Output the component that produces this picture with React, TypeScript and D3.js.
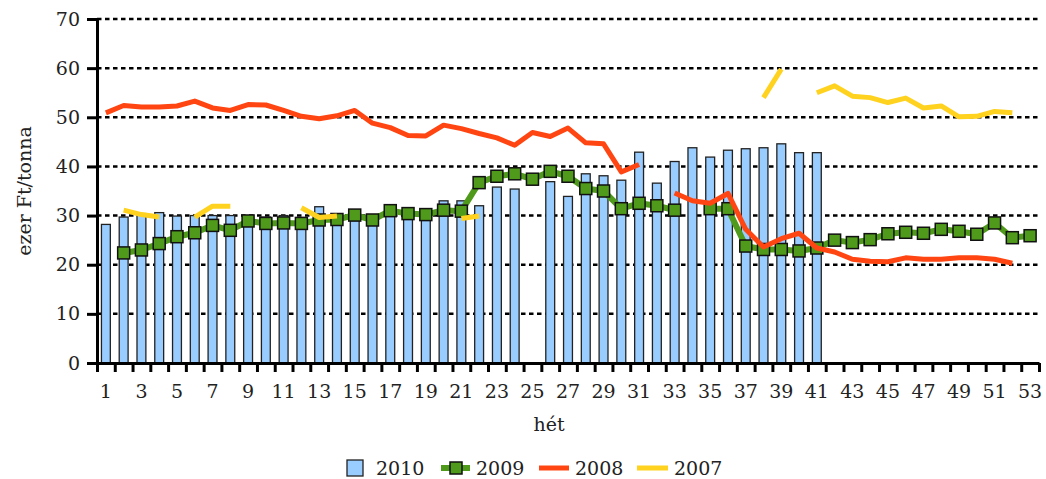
import * as d3 from "d3";
import { useEffect, useRef } from "react";

// weeks on the x axis
const weeks = d3.range(1, 54);
const tickWeeks = weeks.filter((w) => w % 2 === 1);
const yTicks = [0, 10, 20, 30, 40, 50, 60, 70];

// 2010 bars, weeks 1..41 (week 25 missing)
const s2010: (number | null)[] = [
  28.2, 29.7, 30.4, 30.6, 29.9, 30, 30, 30, 29.5, 29.7, 30, 29.6, 31.8, 29,
  29.2, 29.3, 30.4, 30, 29.5, 33, 33, 32, 35.8, 35.4, null, 36.9, 33.9, 38.5,
  38.1, 37.2, 42.9, 36.6, 41, 43.8, 41.9, 43.3, 43.6, 43.8, 44.6, 42.8, 42.8,
];

// 2009 line with markers, weeks 1..53
const s2009: (number | null)[] = [
  null, 22.4, 23, 24.3, 25.7, 26.5, 28, 27, 28.9, 28.4, 28.5, 28.4, 29.1, 29.2,
  30.1, 29.1, 31, 30.4, 30.2, 31.1, 30.9, 36.7, 38, 38.5, 37.4, 39, 38, 35.5,
  35, 31.4, 32.5, 32, 31.1, null, 31.4, 31.4, 23.8, 23.1, 23.1, 22.8, 23.4, 25,
  24.5, 25.1, 26.3, 26.6, 26.4, 27.2, 26.8, 26.2, 28.5, 25.5, 25.9,
];

// 2008 line, weeks 1..53
const s2008: (number | null)[] = [
  50.9, 52.4, 52.1, 52.1, 52.3, 53.3, 51.9, 51.4, 52.6, 52.5, 51.4, 50.2, 49.7,
  50.3, 51.4, 48.8, 47.9, 46.3, 46.2, 48.4, 47.7, 46.7, 45.8, 44.3, 46.9, 46.1,
  47.8, 44.8, 44.6, 38.9, 40.4, null, 34.6, 33, 32.5, 34.5, 27.2, 23.6, 25.3,
  26.4, 23.4, 22.6, 21.1, 20.7, 20.6, 21.4, 21.1, 21.1, 21.4, 21.4, 21.1, 20.3,
  null,
];

// 2007 line, weeks 1..53
const s2007: (number | null)[] = [
  null, 31.1, 30.2, 29.7, null, 29.7, 31.9, 31.9, null, null, null, 31.6, 29.6,
  29.9, null, null, null, null, null, null, 29.4, 29.9, null, null, null, null,
  null, null, null, null, null, null, null, null, null, null, null, 54, 59.8,
  null, 55, 56.4, 54.3, 54, 53, 53.9, 51.9, 52.3, 50.1, 50.2, 51.2, 50.9, null,
];

const C2010 = "#99CCFF";
const C2009 = "#4F9A1B";
const C2008 = "#FF4612";
const C2007 = "#FFD21F";
const FONT = "DejaVu Serif, serif";
const FS = "19px";

export default function App() {
  const ref = useRef<SVGSVGElement>(null);

  useEffect(() => {
    const svg = d3.select(ref.current);
    svg.selectAll("*").remove();

    const left = 97;
    const right = 1039;
    const top = 19;
    const bottom = 363;

    const x = d3
      .scaleBand<number>()
      .domain(weeks)
      .range([left, right])
      .padding(0);
    const step = x.step();
    const cx = (w: number) => x(w)! + step / 2;
    const y = d3.scaleLinear().domain([0, 70]).range([bottom, top]);

    // dashed gridlines
    svg
      .append("g")
      .selectAll("line")
      .data(yTicks.filter((t) => t > 0))
      .enter()
      .append("line")
      .attr("x1", left)
      .attr("x2", right + 1)
      .attr("y1", (d) => y(d))
      .attr("y2", (d) => y(d))
      .attr("stroke", "#000")
      .attr("stroke-width", 2.5)
      .attr("stroke-dasharray", "4.5,3.5");

    // 2010 bars
    const barW = step * 0.5;
    svg
      .append("g")
      .selectAll("rect")
      .data(s2010.map((v, i) => ({ w: weeks[i], v })).filter((d) => d.v != null))
      .enter()
      .append("rect")
      .attr("x", (d) => cx(d.w) - barW / 2)
      .attr("y", (d) => y(d.v as number))
      .attr("width", barW)
      .attr("height", (d) => bottom - y(d.v as number))
      .attr("fill", C2010)
      .attr("stroke", "#222")
      .attr("stroke-width", 1.3);

    // axes
    const xEdges = d3
      .scaleLinear()
      .domain([0.5, 53.5])
      .range([left, right]);
    const xAxis = d3
      .axisBottom(xEdges)
      .tickValues(d3.range(0.5, 54, 1))
      .tickFormat(() => "")
      .tickSize(9)
      .tickSizeOuter(0);
    const gx = svg
      .append("g")
      .attr("transform", `translate(0,${bottom})`)
      .call(xAxis);
    gx.select(".domain").attr("stroke-width", 3);
    gx.selectAll(".tick line").attr("stroke-width", 3);

    const yAxis = d3
      .axisLeft(y)
      .tickValues(yTicks)
      .tickSize(10)
      .tickSizeOuter(0)
      .tickPadding(7);
    const gy = svg
      .append("g")
      .attr("transform", `translate(${left},0)`)
      .call(yAxis);
    gy.select(".domain").attr("stroke-width", 3).attr("d", `M0.5,${top}V${bottom + 9}`);
    gy.selectAll(".tick line").attr("stroke-width", 3);
    gy.attr("font-family", null).attr("font-size", null);
    gy.selectAll(".tick text")
      .style("font-family", FONT)
      .style("font-size", FS)
      .attr("fill", "#222");

    // x tick labels (odd weeks)
    svg
      .append("g")
      .selectAll("text")
      .data(tickWeeks)
      .enter()
      .append("text")
      .attr("x", (d) => cx(d))
      .attr("y", 398)
      .attr("text-anchor", "middle")
      .style("font-family", FONT)
      .style("font-size", FS)
      .attr("fill", "#222")
      .text((d) => d);

    // axis titles
    svg
      .append("text")
      .attr("transform", `translate(31,${(top + bottom) / 2}) rotate(-90)`)
      .attr("text-anchor", "middle")
      .style("font-family", FONT)
      .style("font-size", FS)
      .attr("fill", "#222")
      .text("ezer Ft/tonna");
    svg
      .append("text")
      .attr("x", 549)
      .attr("y", 431)
      .attr("text-anchor", "middle")
      .style("font-family", FONT)
      .style("font-size", FS)
      .attr("fill", "#222")
      .text("hét");

    // lines
    const line = d3
      .line<number | null>()
      .defined((d) => d != null)
      .x((_, i) => cx(weeks[i]))
      .y((d) => y(d as number));

    const drawLine = (data: (number | null)[], color: string, width: number) =>
      svg
        .append("path")
        .datum(data)
        .attr("d", line)
        .attr("fill", "none")
        .attr("stroke", color)
        .attr("stroke-width", width)
        .attr("stroke-linejoin", "round");

    drawLine(s2009, C2009, 6);
    const mk = 12;
    svg
      .append("g")
      .selectAll("rect")
      .data(s2009.map((v, i) => ({ w: weeks[i], v })).filter((d) => d.v != null))
      .enter()
      .append("rect")
      .attr("x", (d) => cx(d.w) - mk / 2)
      .attr("y", (d) => y(d.v as number) - mk / 2)
      .attr("width", mk)
      .attr("height", mk)
      .attr("fill", C2009)
      .attr("stroke", "#111")
      .attr("stroke-width", 1.5);
    drawLine(s2008, C2008, 5);
    drawLine(s2007, C2007, 5);

    // legend
    const ly = 468;
    const lg = svg.append("g");
    lg.append("rect")
      .attr("x", 347)
      .attr("y", ly - 8)
      .attr("width", 16)
      .attr("height", 16)
      .attr("fill", C2010)
      .attr("stroke", "#222")
      .attr("stroke-width", 1.3);
    lg.append("line")
      .attr("x1", 441)
      .attr("x2", 470)
      .attr("y1", ly)
      .attr("y2", ly)
      .attr("stroke", C2009)
      .attr("stroke-width", 6);
    lg.append("rect")
      .attr("x", 450)
      .attr("y", ly - 6)
      .attr("width", 12)
      .attr("height", 12)
      .attr("fill", C2009)
      .attr("stroke", "#111")
      .attr("stroke-width", 1.5);
    lg.append("line")
      .attr("x1", 539)
      .attr("x2", 569)
      .attr("y1", ly)
      .attr("y2", ly)
      .attr("stroke", C2008)
      .attr("stroke-width", 5);
    lg.append("line")
      .attr("x1", 637)
      .attr("x2", 668)
      .attr("y1", ly)
      .attr("y2", ly)
      .attr("stroke", C2007)
      .attr("stroke-width", 5);
    const labels = [
      { t: "2010", x: 376 },
      { t: "2009", x: 476 },
      { t: "2008", x: 575 },
      { t: "2007", x: 674 },
    ];
    lg.selectAll("text")
      .data(labels)
      .enter()
      .append("text")
      .attr("x", (d) => d.x)
      .attr("y", ly + 7)
      .style("font-family", FONT)
      .style("font-size", FS)
      .attr("fill", "#222")
      .text((d) => d.t);
  }, []);

  return (
    <svg
      ref={ref}
      width={1046}
      height={479}
      style={{ position: "absolute", left: 0, top: 0, background: "#fff" }}
    ></svg>
  );
}
